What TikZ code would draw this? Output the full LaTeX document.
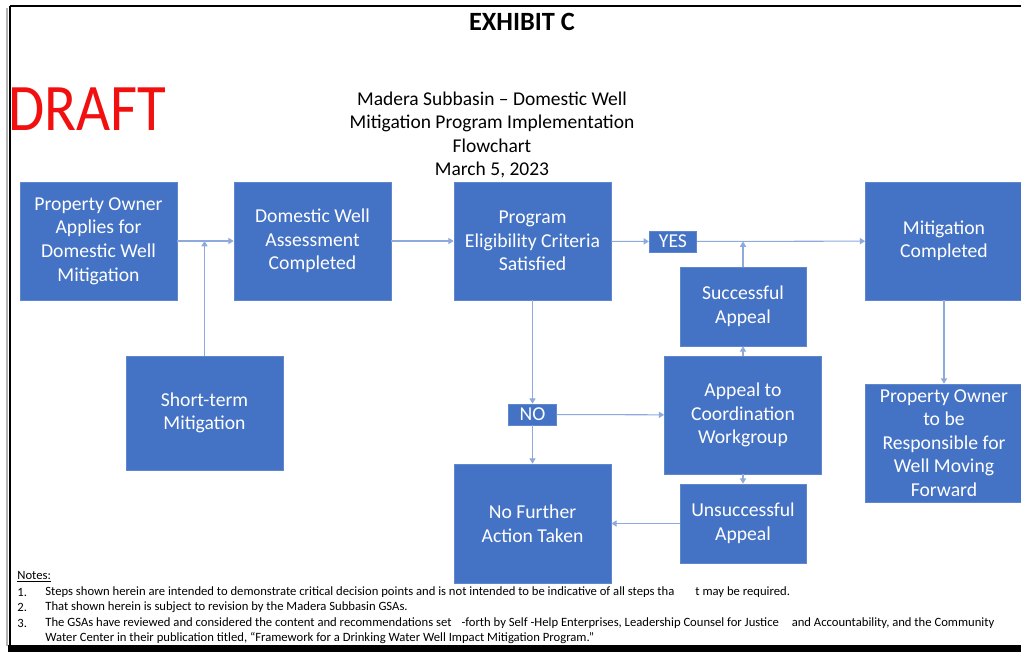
\documentclass[tikz,border=0pt]{standalone}
\usepackage{fontspec}
\setmainfont{Carlito}
\usetikzlibrary{arrows.meta}
\definecolor{boxblue}{HTML}{4472C4}
\definecolor{linkblue}{HTML}{8EA9DB}
\definecolor{draftred}{HTML}{F20F0F}
\tikzset{
  stage/.style={fill=boxblue, draw=boxblue!85!white, text=white, align=center,
    inner sep=0pt, minimum width=3.14cm, minimum height=2.36cm,
    font=\fontsize{11.2}{13.4}\selectfont},
  tag/.style={stage, minimum width=0.95cm, minimum height=0.42cm},
  link/.style={linkblue, line width=0.6pt, -{Triangle[length=3pt,width=3.5pt]}},
  note/.style={anchor=west, inner sep=0pt, font=\fontsize{7.2}{8.8}\selectfont}
}
\begin{document}
\begin{tikzpicture}[x=0.02cm, y=-0.02cm]
\useasboundingbox (0,0) rectangle (1021,652);
% frame
\draw[gray!60, line width=1pt] (7,8) -- (7,646);
\draw[black, line width=0.9pt] (10,6) -- (1021,6);
\draw[black, line width=0.9pt] (10,6) -- (10,646);
\fill[black] (8,645) rectangle (1021,652);

\node (exhibit) at (522,22) {\fontsize{15}{18}\selectfont\bfseries EXHIBIT C};
\node[text=draftred] (draft) at (87,109) {\fontsize{33.5}{33}\selectfont\scalebox{1}[1.13]{DRAFT}};
\node[align=center, font=\fontsize{11.1}{13.3}\selectfont] (heading) at (492,135)
  {Madera Subbasin -- Domestic Well\\Mitigation Program Implementation\\Flowchart\\March 5, 2023};

\node[stage] (owner) at (98.5,241) {Property Owner\\Applies for\\Domestic Well\\Mitigation};
\node[stage] (assess) at (312.5,241) {Domestic Well\\Assessment\\Completed};
\node[stage] (elig) at (532.5,241) {Program\\Eligibility Criteria\\Satisfied};
\node[stage] (done) at (944,241) {Mitigation\\Completed};
\node[stage, minimum height=2.28cm] (shortterm) at (204.5,413) {Short-term\\Mitigation};
\node[tag] (yes) at (673,241.5) {YES};
\node[stage, minimum width=2.52cm, minimum height=1.58cm] (success) at (743,306.5) {Successful\\Appeal};
\node[stage] (appeal) at (743,415) {Appeal to\\Coordination\\Workgroup};
\node[tag] (no) at (532.5,414.5) {NO};
\node[stage, minimum height=2.38cm] (nofurther) at (532.5,523.5) {No Further\\Action Taken};
\node[stage, minimum width=2.52cm, minimum height=1.58cm] (unsucc) at (743,523.5) {Unsuccessful\\Appeal};
\node[stage] (respons) at (944,443) {Property Owner\\to be\\Responsible for\\Well Moving\\Forward};

\draw[link] (owner) -- (assess);
\draw[link] (shortterm) -- (shortterm |- owner);
\draw[link] (assess) -- (elig);
\draw[link] (elig) -- (yes);
\draw[link] (yes) -- (done);
\draw[link] (success) -- (success |- yes);
\draw[link] (appeal) -- (success);
\draw[link] (elig) -- (no);
\draw[link] (no) -- (appeal);
\draw[link] (no) -- (nofurther);
\draw[link] (appeal) -- (unsucc);
\draw[link] (unsucc) -- (nofurther);
\draw[link] (done) -- (respons);

% notes
\node[note] (notes) at (17,577) {\underline{Notes:}};
\node[note] (n1) at (17,592) {1.};
\node[note] (t1) at (45,592) {Steps shown herein are intended to demonstrate critical decision points and is not intended to be indicative of all steps tha\hspace{0.42cm}t may be required.};
\node[note] (n2) at (17,607) {2.};
\node[note] (t2) at (45,607) {That shown herein is subject to revision by the Madera Subbasin GSAs.};
\node[note] (n3) at (17,623) {3.};
\node[note] (t3) at (45,623) {The GSAs have reviewed and considered the content and recommendations set\hspace{0.2cm}-forth by Self -Help Enterprises, Leadership Counsel for Justice\hspace{0.2cm} and Accountability, and the Community};
\node[note] (t4) at (45,638) {Water Center in their publication titled, ``Framework for a Drinking Water Well Impact Mitigation Program.''};
\end{tikzpicture}
\end{document}
